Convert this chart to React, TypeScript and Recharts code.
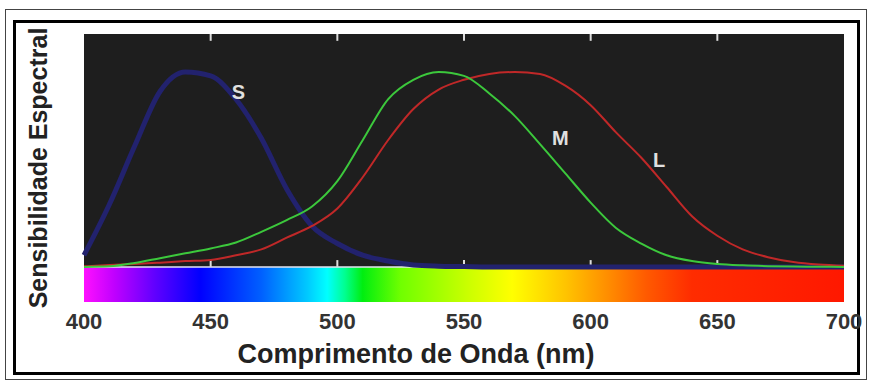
import React from 'react';
import {
  LineChart,
  Line,
  XAxis,
  YAxis,
  ReferenceArea,
  ReferenceLine,
  ReferenceDot,
} from 'recharts';

// wavelength grid (nm) and cone sensitivities
const wavelengths = [
  400, 410, 420, 430, 440, 450, 460, 470, 480, 490, 500, 510, 520, 530, 540, 550,
  560, 570, 580, 590, 600, 610, 620, 630, 640, 650, 660, 670, 680, 690, 700,
];
const sCone = [
  0.06, 0.32, 0.62, 0.9, 1.0, 0.98, 0.86, 0.66, 0.4, 0.21, 0.12, 0.06, 0.03, 0.01, 0.004, 0.002,
  0, 0, 0, 0, 0, 0, 0, 0, 0, 0, 0, 0, 0, 0, 0,
];
const mCone = [
  0, 0.003, 0.02, 0.045, 0.07, 0.095, 0.125, 0.18, 0.24, 0.31, 0.44, 0.65, 0.86, 0.96, 1.0, 0.98,
  0.89, 0.775, 0.63, 0.48, 0.33, 0.2, 0.12, 0.06, 0.03, 0.015, 0.008, 0.004, 0.002, 0.001, 0,
];
const lCone = [
  0.003, 0.01, 0.015, 0.022, 0.03, 0.036, 0.06, 0.09, 0.15, 0.21, 0.3, 0.46, 0.65, 0.81, 0.91, 0.96,
  0.99, 1.0, 0.99, 0.93, 0.83, 0.69, 0.56, 0.41, 0.26, 0.16, 0.09, 0.05, 0.025, 0.012, 0.006,
];

const xTicks = [400, 450, 500, 550, 600, 650, 700];
const innerTicks = [450, 500, 550, 600, 650];

const curveLabels = [
  { name: 'S', nm: 461, value: 0.9 },
  { name: 'M', nm: 588, value: 0.66 },
  { name: 'L', nm: 627, value: 0.55 },
];

// colour of the visible spectrum strip under the plot
const spectrumStops = [
  { nm: 400, color: '#ff10ff' },
  { nm: 412, color: '#c000ff' },
  { nm: 428, color: '#6000ff' },
  { nm: 446, color: '#0000ff' },
  { nm: 470, color: '#0060ff' },
  { nm: 488, color: '#00c8ff' },
  { nm: 496, color: '#00ffff' },
  { nm: 503, color: '#00ff90' },
  { nm: 510, color: '#00ee10' },
  { nm: 525, color: '#70ff00' },
  { nm: 552, color: '#ccff00' },
  { nm: 569, color: '#ffff00' },
  { nm: 590, color: '#ffc400' },
  { nm: 606, color: '#ff9000' },
  { nm: 622, color: '#ff5a00' },
  { nm: 640, color: '#ff2c00' },
  { nm: 700, color: '#ff1800' },
];

const data = wavelengths.map((nm, i) => ({ nm, S: sCone[i], M: mCone[i], L: lCone[i] }));

const Y_TOP = 1.195;
const Y_BOTTOM = -0.18;
const FONT = '"Liberation Sans", Arial, sans-serif';

const XTitle = (props: any) => {
  const vb = props.viewBox || {};
  return (
    <text
      x={vb.x + vb.width / 2 - 48}
      y={vb.y + 61}
      textAnchor="middle"
      fontFamily={FONT}
      fontWeight="bold"
      fontSize={27}
      fill="#222"
    >
      Comprimento de Onda (nm)
    </text>
  );
};

const YTitle = (props: any) => {
  const vb = props.viewBox || {};
  const cx = 47;
  const cy = vb.y + vb.height / 2;
  return (
    <text
      x={cx}
      y={cy}
      transform={`rotate(-90 ${cx} ${cy})`}
      textAnchor="middle"
      fontFamily={FONT}
      fontWeight="bold"
      fontSize={25}
      fill="#222"
    >
      Sensibilidade Espectral
    </text>
  );
};

export default function App() {
  return (
    <div style={{ position: 'absolute', left: 0, top: 0, width: 871, height: 383, background: '#fff' }}>
      <div
        style={{
          position: 'absolute', left: 5, top: 9, width: 862, height: 371,
          border: '1px solid #444', boxSizing: 'border-box',
        }}
      />
      <div
        style={{
          position: 'absolute', left: 13, top: 20, width: 847, height: 355,
          border: '3px solid #000', boxSizing: 'border-box',
        }}
      />
      <div style={{ position: 'absolute', left: 0, top: 0 }}>
        <LineChart width={871} height={383} data={data} margin={{ top: 34, right: 27, left: 0, bottom: 0 }}>
          <defs>
            <linearGradient id="spectrum" x1="0" y1="0" x2="1" y2="0">
              {spectrumStops.map((s) => (
                <stop key={s.nm} offset={`${((s.nm - 400) / 300) * 100}%`} stopColor={s.color} />
              ))}
            </linearGradient>
          </defs>
          <XAxis
            dataKey="nm"
            type="number"
            domain={[400, 700]}
            ticks={xTicks}
            axisLine={false}
            tickLine={false}
            tickMargin={5}
            height={81}
            tick={{ fontFamily: FONT, fontSize: 22, fontWeight: 'bold', fill: '#333' }}
            label={<XTitle />}
          />
          <YAxis
            type="number"
            domain={[Y_BOTTOM, Y_TOP]}
            width={84}
            axisLine={false}
            tickLine={false}
            tick={false}
            label={<YTitle />}
          />
          <ReferenceArea x1={400} x2={700} y1={0} y2={Y_TOP} fill="#1e1e1e" fillOpacity={1} stroke="none" />
          <ReferenceArea x1={400} x2={700} y1={Y_BOTTOM} y2={0} fill="url(#spectrum)" fillOpacity={1} stroke="none" />
          <ReferenceLine y={0} stroke="#e4e4f0" strokeWidth={1.5} />
          {innerTicks.map((t) => (
            <ReferenceLine
              key={`b${t}`}
              segment={[{ x: t, y: 0 }, { x: t, y: 0.035 }]}
              stroke="#dddddd"
              strokeWidth={2}
            />
          ))}
          {innerTicks.map((t) => (
            <ReferenceLine
              key={`t${t}`}
              segment={[{ x: t, y: Y_TOP }, { x: t, y: Y_TOP - 0.035 }]}
              stroke="#dddddd"
              strokeWidth={2}
            />
          ))}
          <Line dataKey="S" type="monotone" stroke="#22226e" strokeWidth={5} dot={false} isAnimationActive={false} />
          <Line dataKey="L" type="monotone" stroke="#c02828" strokeWidth={2} dot={false} isAnimationActive={false} />
          <Line dataKey="M" type="monotone" stroke="#3cc83c" strokeWidth={2} dot={false} isAnimationActive={false} />
          {curveLabels.map((c) => (
            <ReferenceDot
              key={c.name}
              x={c.nm}
              y={c.value}
              r={0}
              stroke="none"
              label={{ value: c.name, position: 'center', fill: '#e0e0e0', fontSize: 20, fontWeight: 'bold', fontFamily: FONT }}
            />
          ))}
        </LineChart>
      </div>
    </div>
  );
}
